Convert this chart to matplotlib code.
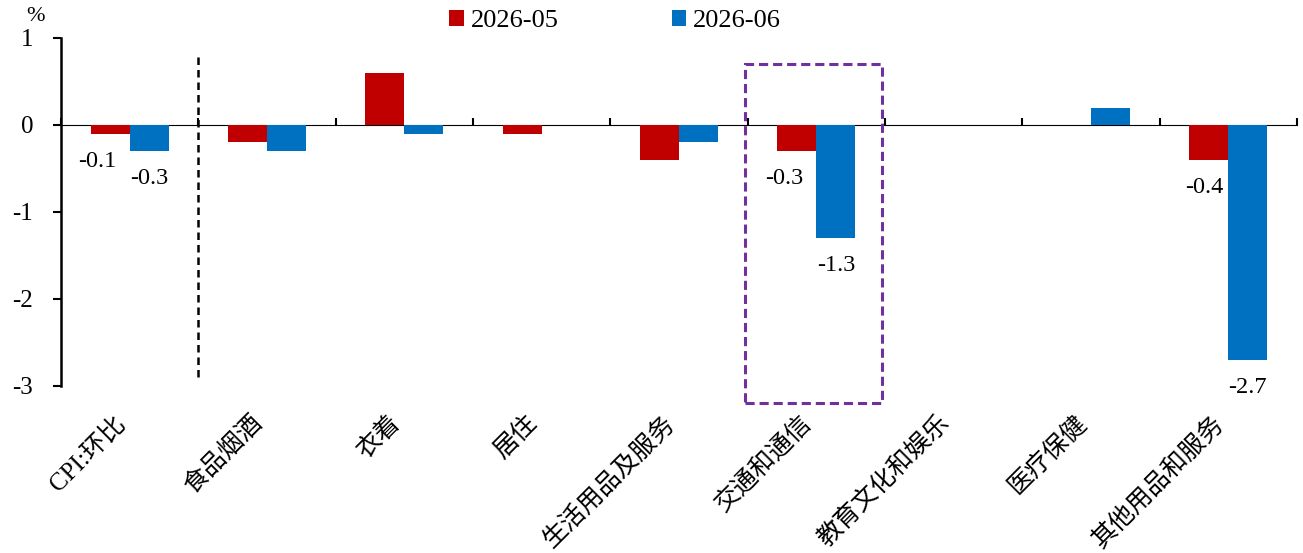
import numpy as np
import matplotlib
matplotlib.use('Agg')
import matplotlib.pyplot as plt
from matplotlib.patches import Rectangle

# Data
categories = ['CPI:环比', '食品烟酒', '衣着', '居住', '生活用品及服务',
              '交通和通信', '教育文化和娱乐', '医疗保健', '其他用品和服务']
may_values = [-0.1, -0.2, 0.6, -0.1, -0.4, -0.3, 0.0, 0.0, -0.4]
jun_values = [-0.3, -0.3, -0.1, 0.0, -0.2, -1.3, 0.0, 0.2, -2.7]
series_names = ['2026-05', '2026-06']
# which bars get a value label
may_labeled = [0, 5, 8]
jun_labeled = [0, 5, 8]
y_ticks = [1, 0, -1, -2, -3]

RED = '#C00000'
BLUE = '#0070C0'
PURPLE = '#7030A0'
FONTS = ['Liberation Serif', 'Noto Sans CJK SC', 'DejaVu Sans']

plt.rcParams['font.family'] = FONTS

fig = plt.figure(figsize=(13.03, 5.53), dpi=100)
ax = fig.add_axes([0.0468, 0.302, 0.9486, 0.6293])

x = np.arange(len(categories))
w = 0.284
bars_may = ax.bar(x - w / 2, may_values, w, color=RED, label=series_names[0])
bars_jun = ax.bar(x + w / 2, jun_values, w, color=BLUE, label=series_names[1])

ax.set_xlim(-0.5, len(categories) - 0.5)
ax.set_ylim(-3, 1)

# y axis
ax.set_yticks(y_ticks)
ax.set_yticklabels([str(v) for v in y_ticks], fontsize=18)
ax.tick_params(axis='y', direction='out', length=6, width=1.5, pad=14)
ax.spines['left'].set_linewidth(1.8)
for s in ['top', 'right', 'bottom']:
    ax.spines[s].set_visible(False)

# zero line with ticks between categories
sec = ax.secondary_xaxis(0.75)
sec.set_xticks(np.arange(len(categories) + 1) - 0.5)
sec.set_xticklabels([])
sec.tick_params(direction='out', length=5, width=1.5)
sec.spines['bottom'].set_linewidth(1.8)

# category labels at the bottom
ax.set_xticks(x)
ax.set_xticklabels(categories, rotation=45, ha='right', va='bottom',
                   rotation_mode='anchor', fontsize=18)
ax.tick_params(axis='x', length=0, pad=30)

# value labels
for i in may_labeled:
    v = may_values[i]
    dx = -3 if i == 8 else -9
    ax.annotate(f'{v:.1f}', (x[i] - w / 2, v), xytext=(dx, -20),
                textcoords='offset points', ha='center', va='center', fontsize=17.5)
for i in jun_labeled:
    v = jun_values[i]
    ax.annotate(f'{v:.1f}', (x[i] + w / 2, v), xytext=(0, -20),
                textcoords='offset points', ha='center', va='center', fontsize=17.5)

# separator after headline CPI
ax.plot([0.5, 0.5], [0.78, -2.93], color='black', lw=1.8, ls=(0, (3, 2)),
        clip_on=False)

# highlight box around transport & communication
rect = Rectangle((4.48, -3.2), 1.0, 3.9, fill=False, edgecolor=PURPLE,
                 lw=2.2, ls=(0, (3, 1.6)), clip_on=False)
ax.add_patch(rect)

ax.text(-0.021, 1.035, '%', transform=ax.transAxes, fontsize=16,
        ha='center', va='bottom')

fig.legend(handles=[bars_may, bars_jun], labels=series_names, loc='center',
           bbox_to_anchor=(0.472, 0.962), ncol=2, frameon=False, fontsize=19,
           handlelength=0.55, handleheight=0.55, handletextpad=0.25,
           columnspacing=4.3)

fig.savefig('out.png', dpi=100)
